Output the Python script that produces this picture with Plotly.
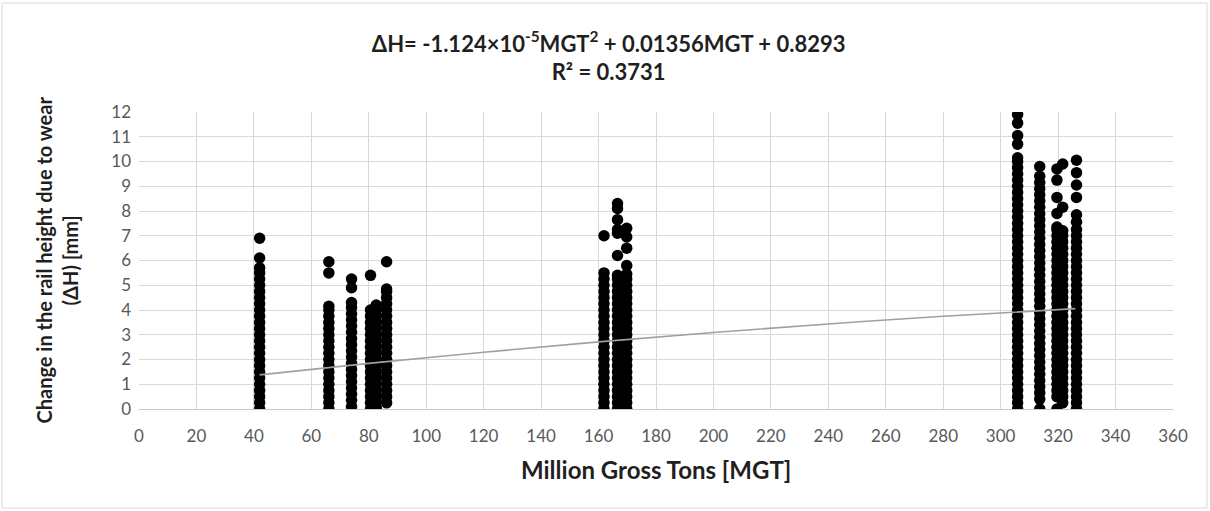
import plotly.graph_objects as go

# ---- data ----
col_mgt = [42.0, 66.1, 74.0, 80.6, 82.6, 86.2, 161.9, 166.6, 169.8,
           305.9, 313.6, 319.6, 321.6, 326.4]

y_042 = [0.0, 0.25, 0.5, 0.75, 1.0, 1.25, 1.5, 1.75, 2.0, 2.25, 2.5, 2.75, 3.0,
         3.25, 3.5, 3.75, 4.0, 4.25, 4.5, 4.75, 5.0, 5.25, 5.5, 5.7, 6.1, 6.9]
y_066 = [0.0, 0.25, 0.5, 0.75, 1.0, 1.25, 1.5, 1.75, 2.0, 2.25, 2.5, 2.75, 3.0,
         3.25, 3.5, 3.75, 4.0, 4.15, 5.5, 5.95]
y_074 = [0.1, 0.35, 0.6, 0.85, 1.1, 1.35, 1.6, 1.85, 2.1, 2.35, 2.6, 2.85, 3.1,
         3.35, 3.6, 3.85, 4.1, 4.3, 4.9, 5.25]
y_081 = [0.0, 0.25, 0.5, 0.75, 1.0, 1.25, 1.5, 1.75, 2.0, 2.25, 2.5, 2.75, 3.0,
         3.25, 3.5, 3.75, 4.0, 5.4]
y_083 = [0.05, 0.3, 0.55, 0.8, 1.05, 1.3, 1.55, 1.8, 2.05, 2.3, 2.55, 2.8, 3.05,
         3.3, 3.55, 3.8, 4.05, 4.2]
y_086 = [0.25, 0.5, 0.75, 1.0, 1.25, 1.5, 1.75, 2.0, 2.25, 2.5, 2.75, 3.0, 3.25,
         3.5, 3.75, 4.0, 4.25, 4.5, 4.75, 4.85, 5.95]
y_162 = [0.0, 0.25, 0.5, 0.75, 1.0, 1.25, 1.5, 1.75, 2.0, 2.25, 2.5, 2.75, 3.0,
         3.25, 3.5, 3.75, 4.0, 4.25, 4.5, 4.75, 5.0, 5.25, 5.5, 7.0]
y_167 = [0.0, 0.25, 0.5, 0.75, 1.0, 1.25, 1.5, 1.75, 2.0, 2.25, 2.5, 2.75, 3.0,
         3.25, 3.5, 3.75, 4.0, 4.25, 4.5, 4.75, 5.0, 5.25, 5.4, 6.2, 7.1, 7.25,
         7.65, 8.1, 8.3]
y_170 = [0.0, 0.25, 0.5, 0.75, 1.0, 1.25, 1.5, 1.75, 2.0, 2.25, 2.5, 2.75, 3.0,
         3.25, 3.5, 3.75, 4.0, 4.25, 4.5, 4.75, 5.0, 5.25, 5.45, 5.8, 6.5, 6.95,
         7.3]
y_306 = [0.0, 0.25, 0.5, 0.75, 1.0, 1.25, 1.5, 1.75, 2.0, 2.25, 2.5, 2.75, 3.0,
         3.25, 3.5, 3.75, 4.0, 4.25, 4.5, 4.75, 5.0, 5.25, 5.5, 5.75, 6.0, 6.25,
         6.5, 6.75, 7.0, 7.25, 7.5, 7.75, 8.0, 8.25, 8.5, 8.75, 9.0, 9.25, 9.5,
         9.75, 10.0, 10.15, 10.7, 11.05, 11.55, 11.9]
y_314 = [0.0, 0.4, 0.65, 0.9, 1.15, 1.4, 1.65, 1.9, 2.15, 2.4, 2.65, 2.9, 3.15,
         3.4, 3.65, 3.9, 4.15, 4.4, 4.65, 4.9, 5.15, 5.4, 5.65, 5.9, 6.15, 6.4,
         6.65, 6.9, 7.15, 7.4, 7.65, 7.9, 8.15, 8.4, 8.65, 8.9, 9.15, 9.4, 9.8]
y_320 = [0.0, 0.5, 0.75, 1.0, 1.25, 1.5, 1.75, 2.0, 2.25, 2.5, 2.75, 3.0, 3.25,
         3.5, 3.75, 4.0, 4.25, 4.5, 4.75, 5.0, 5.25, 5.5, 5.75, 6.0, 6.25, 6.5,
         6.75, 7.0, 7.25, 7.35, 7.9, 8.55, 9.25, 9.7]
y_322 = [0.25, 0.5, 0.75, 1.0, 1.25, 1.5, 1.75, 2.0, 2.25, 2.5, 2.75, 3.0, 3.25,
         3.5, 3.75, 4.0, 4.25, 4.5, 4.75, 5.0, 5.25, 5.5, 5.75, 6.0, 6.25, 6.5,
         6.75, 7.0, 7.2, 8.15, 9.9]
y_326 = [0.0, 0.25, 0.5, 0.75, 1.0, 1.25, 1.5, 1.75, 2.0, 2.25, 2.5, 2.75, 3.0,
         3.25, 3.5, 3.75, 4.0, 4.25, 4.5, 4.75, 5.0, 5.25, 5.5, 5.75, 6.0, 6.25,
         6.5, 6.75, 7.0, 7.25, 7.55, 7.85, 8.55, 9.05, 9.55, 10.05]

col_values = [y_042, y_066, y_074, y_081, y_083, y_086, y_162, y_167, y_170,
              y_306, y_314, y_320, y_322, y_326]

# polynomial trend line
trend_x = [42, 80, 120, 160, 200, 240, 280, 326]
trend_y = [1.379, 1.842, 2.295, 2.711, 3.092, 3.436, 3.745, 4.055]

x_ticks = list(range(0, 361, 20))
y_ticks = list(range(0, 13, 1))

title_text = "ΔH= -1.124×10<sup>-5</sup>MGT<sup>2</sup> + 0.01356MGT + 0.8293<br>R² = 0.3731"
x_title = "Million Gross Tons [MGT]"
y_title = "Change in the rail height due to wear<br>(ΔH) [mm]"

# ---- build ----
xs, ys = [], []
for xv, vals in zip(col_mgt, col_values):
    xs.extend([xv] * len(vals))
    ys.extend(vals)

FONT = "Lato"
TICK_COLOR = "#595959"
fig = go.Figure()
fig.add_trace(go.Scatter(x=xs, y=ys, mode="markers",
                         marker=dict(color="black", size=11.5, line=dict(width=0)),
                         hoverinfo="skip", showlegend=False))
fig.add_trace(go.Scatter(x=trend_x, y=trend_y, mode="lines",
                         line=dict(color="#a0a0a0", width=1.6, shape="spline"),
                         hoverinfo="skip", showlegend=False))

L, R, T, B = 139, 37, 112, 102
W, H = 1210, 511
pw, ph = W - L - R, H - T - B

fig.update_layout(
    width=W, height=H,
    margin=dict(l=L, r=R, t=T, b=B),
    paper_bgcolor="white", plot_bgcolor="white",
    font=dict(family=FONT, color=TICK_COLOR),
    title=dict(text=title_text, x=0.503, xanchor="center", xref="container",
               y=1 - 51.5 / H, yanchor="middle", yref="container",
               font=dict(family=FONT, size=22, color="#1f1f1f", weight="bold")),
    xaxis=dict(range=[0, 360], tickvals=x_ticks, showgrid=True,
               gridcolor="#d9d9d9", gridwidth=1, zeroline=False,
               showline=True, linecolor="#c8c8c8", linewidth=1,
               ticks="", ticklabelstandoff=12,
               tickfont=dict(family=FONT, size=17, color=TICK_COLOR),
               fixedrange=True),
    yaxis=dict(range=[0, 12], tickvals=y_ticks, showgrid=True,
               gridcolor="#d9d9d9", gridwidth=1, zeroline=False,
               showline=False, ticks="", ticklabelstandoff=7,
               tickfont=dict(family=FONT, size=17, color=TICK_COLOR),
               fixedrange=True),
    annotations=[
        dict(text=x_title, xref="paper", yref="paper", x=0.5,
             y=(409 - 469) / ph, xanchor="center", yanchor="middle",
             showarrow=False,
             font=dict(family=FONT, size=24, color="#1f1f1f", weight="bold")),
        dict(text=y_title, xref="paper", yref="paper", x=(56 - L) / pw,
             y=0.5, xanchor="center", yanchor="middle", textangle=-90,
             showarrow=False,
             font=dict(family=FONT, size=20, color="#1f1f1f", weight="bold")),
    ],
    shapes=[dict(type="rect", xref="paper", yref="paper",
                 x0=(2 - L) / pw, x1=(1207 - L) / pw,
                 y0=(409 - 508) / ph, y1=(409 - 3) / ph,
                 line=dict(color="#d9d9d9", width=1), layer="below")],
)

fig.write_html("out.html")
